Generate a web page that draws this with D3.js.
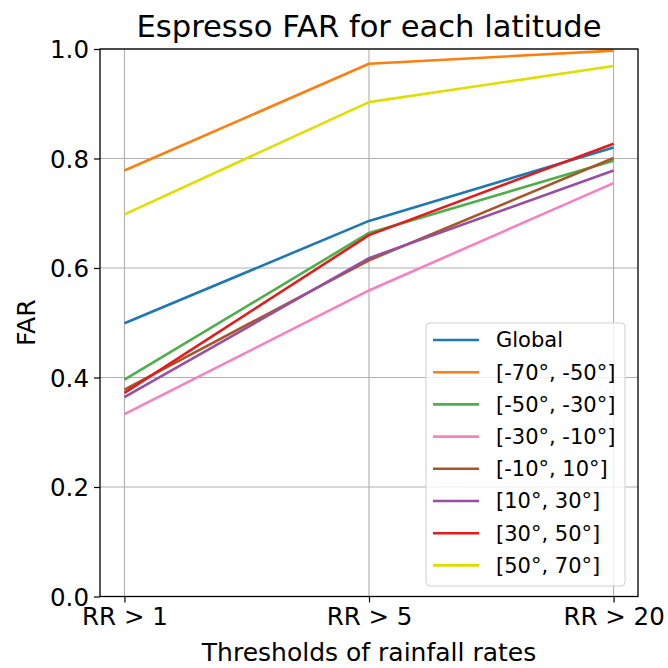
<!DOCTYPE html>
<html>
<head>
<meta charset="utf-8">
<script src="https://cdn.jsdelivr.net/npm/d3@7"></script>
<style>
  body { margin: 0; background: #fff; }
  text { font-family: "DejaVu Sans", sans-serif; }
</style>
</head>
<body>
<div id="chart"></div>
<script>
const thresholds = ['RR > 1', 'RR > 5', 'RR > 20'];
const seriesNames = ['Global', '[-70°, -50°]', '[-50°, -30°]', '[-30°, -10°]', '[-10°, 10°]', '[10°, 30°]', '[30°, 50°]', '[50°, 70°]'];
const global = [0.499, 0.686, 0.820];
const lat70s50s = [0.778, 0.973, 0.997];
const lat50s30s = [0.396, 0.664, 0.796];
const lat30s10s = [0.333, 0.559, 0.755];
const lat10s10n = [0.378, 0.614, 0.801];
const lat10n30n = [0.364, 0.618, 0.778];
const lat30n50n = [0.372, 0.660, 0.827];
const lat50n70n = [0.698, 0.903, 0.969];
const colors = ['#1f77b4', '#ff7f0e', '#4daf4a', '#f781bf', '#a65628', '#984ea3', '#e41a1c', '#dede00'];
const yTicks = [0, 0.2, 0.4, 0.6, 0.8, 1.0];

const series = [global, lat70s50s, lat50s30s, lat30s10s, lat10s10n, lat10n30n, lat30n50n, lat50n70n];

const width = 668, height = 668;
const mLeft = 100, mRight = 638, mTop = 49, mBottom = 596.5;

const svg = d3.select('#chart').append('svg')
  .attr('width', width)
  .attr('height', height);

const x = d3.scalePoint().domain(thresholds).range([mLeft, mRight]).padding(0.1);
const y = d3.scaleLinear().domain([0, 1]).range([mBottom, mTop]);

// grid
svg.append('g')
  .selectAll('line')
  .data(thresholds)
  .enter().append('line')
  .attr('x1', d => x(d)).attr('x2', d => x(d))
  .attr('y1', mTop).attr('y2', mBottom)
  .attr('stroke', '#b0b0b0').attr('stroke-width', 1.1);
svg.append('g')
  .selectAll('line')
  .data(yTicks)
  .enter().append('line')
  .attr('x1', mLeft).attr('x2', mRight)
  .attr('y1', d => y(d)).attr('y2', d => y(d))
  .attr('stroke', '#b0b0b0').attr('stroke-width', 1.1);

// lines
const line = d3.line().x((d, i) => x(thresholds[i])).y(d => y(d));
svg.append('g')
  .selectAll('path')
  .data(series)
  .enter().append('path')
  .attr('d', d => line(d))
  .attr('fill', 'none')
  .attr('stroke', (d, i) => colors[i])
  .attr('stroke-width', 2.6)
  .attr('stroke-linejoin', 'round');

// axes
const xAxis = svg.append('g')
  .attr('transform', `translate(0,${mBottom})`)
  .call(d3.axisBottom(x).tickSize(6).tickPadding(5));
const yAxis = svg.append('g')
  .attr('transform', `translate(${mLeft},0)`)
  .call(d3.axisLeft(y).tickValues(yTicks).tickFormat(d3.format('.1f')).tickSize(6).tickPadding(5));
[xAxis, yAxis].forEach(a => {
  a.select('.domain').remove();
  a.selectAll('line').attr('stroke', '#000').attr('stroke-width', 1.2);
  a.selectAll('text').style('font-size', '24.5px').attr('fill', '#000');
});
yAxis.selectAll('text').attr('dy', '0.35em');

// spines
svg.append('rect')
  .attr('x', mLeft).attr('y', mTop)
  .attr('width', mRight - mLeft).attr('height', mBottom - mTop)
  .attr('fill', 'none').attr('stroke', '#000').attr('stroke-width', 1.3);

// labels
svg.append('text')
  .attr('x', (mLeft + mRight) / 2).attr('y', 36.5)
  .attr('text-anchor', 'middle')
  .style('font-size', '30.6px')
  .text('Espresso FAR for each latitude');
svg.append('text')
  .attr('x', (mLeft + mRight) / 2).attr('y', 661)
  .attr('text-anchor', 'middle')
  .style('font-size', '25px')
  .text('Thresholds of rainfall rates');
svg.append('text')
  .attr('transform', `translate(35,${(mTop + mBottom) / 2}) rotate(-90)`)
  .attr('text-anchor', 'middle')
  .style('font-size', '25px')
  .text('FAR');

// legend
const legend = svg.append('g').attr('transform', 'translate(426,323)');
legend.append('rect')
  .attr('width', 199).attr('height', 263)
  .attr('rx', 4)
  .attr('fill', 'rgba(255,255,255,0.8)')
  .attr('stroke', '#d0d0d0').attr('stroke-width', 1);
const item = legend.selectAll('g.item')
  .data(seriesNames)
  .enter().append('g')
  .attr('class', 'item')
  .attr('transform', (d, i) => `translate(0,${17 + i * 32.2})`);
item.append('line')
  .attr('x1', 7).attr('x2', 53)
  .attr('stroke', (d, i) => colors[i])
  .attr('stroke-width', 2.6);
item.append('text')
  .attr('x', 70).attr('dy', '0.35em')
  .style('font-size', '21px')
  .text(d => d);
</script>
</body>
</html>
